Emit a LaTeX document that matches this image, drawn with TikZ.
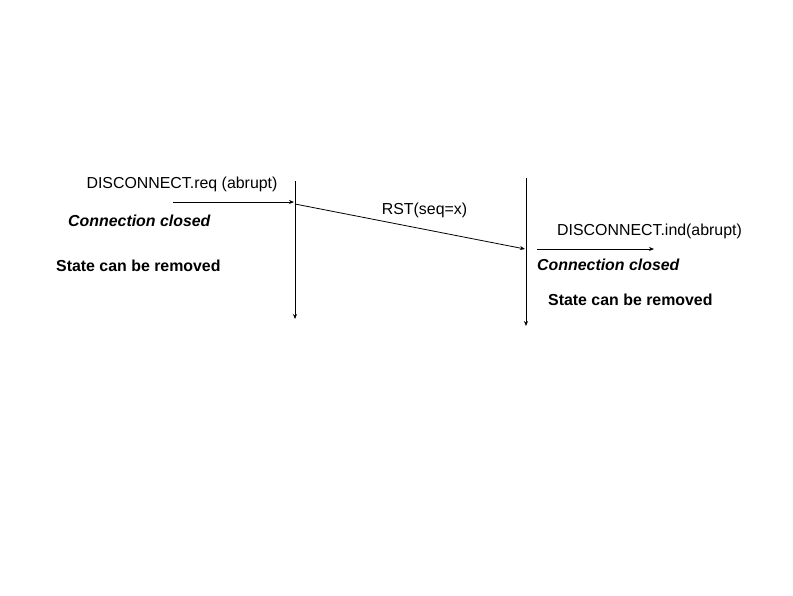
\documentclass[tikz,border=0pt]{standalone}
\usepackage{fontspec}
\setmainfont{Liberation Sans}
\usetikzlibrary{arrows.meta}
\begin{document}
\begin{tikzpicture}[x=1pt,y=-1pt,
  lbl/.style={inner sep=0pt,font=\fontsize{15.9}{19}\selectfont},
  blbl/.style={lbl,font=\fontsize{15.9}{19}\selectfont\bfseries},
  bilbl/.style={lbl,font=\fontsize{15.9}{19}\selectfont\bfseries\itshape},
  arr/.style={line width=0.8pt,-{Stealth[length=5pt,width=4pt]}}]
\useasboundingbox (0,0) rectangle (793,595);
% time lines
\coordinate (ltop) at (295,181);
\coordinate (lbot) at (295,319);
\coordinate (rtop) at (526,178);
\coordinate (rbot) at (526,326);
\draw[arr] (ltop) -- (lbot);
\draw[arr] (rtop) -- (rbot);
% left side
\node[lbl,anchor=base] (req) at (182,188) {DISCONNECT.req (abrupt)};
\coordinate (reqs) at (173,202);
\coordinate (reqe) at (294,202);
\draw[arr] (reqs) -- (reqe);
\node[bilbl,anchor=base west] (lcc) at (68,226) {Connection closed};
\node[blbl,anchor=base west] (lsr) at (56,271) {State can be removed};
% RST
\coordinate (rsts) at (295,204);
\coordinate (rste) at (525,249);
\draw[arr] (rsts) -- (rste);
\node[lbl,anchor=base] (rst) at (424.5,214) {RST(seq=x)};
% right side
\node[lbl,anchor=base west] (ind) at (557,235) {DISCONNECT.ind(abrupt)};
\coordinate (inds) at (537,249);
\coordinate (inde) at (654,249);
\draw[arr] (inds) -- (inde);
\node[bilbl,anchor=base west] (rcc) at (537,270) {Connection closed};
\node[blbl,anchor=base west] (rsr) at (548,305) {State can be removed};
\end{tikzpicture}
\end{document}
